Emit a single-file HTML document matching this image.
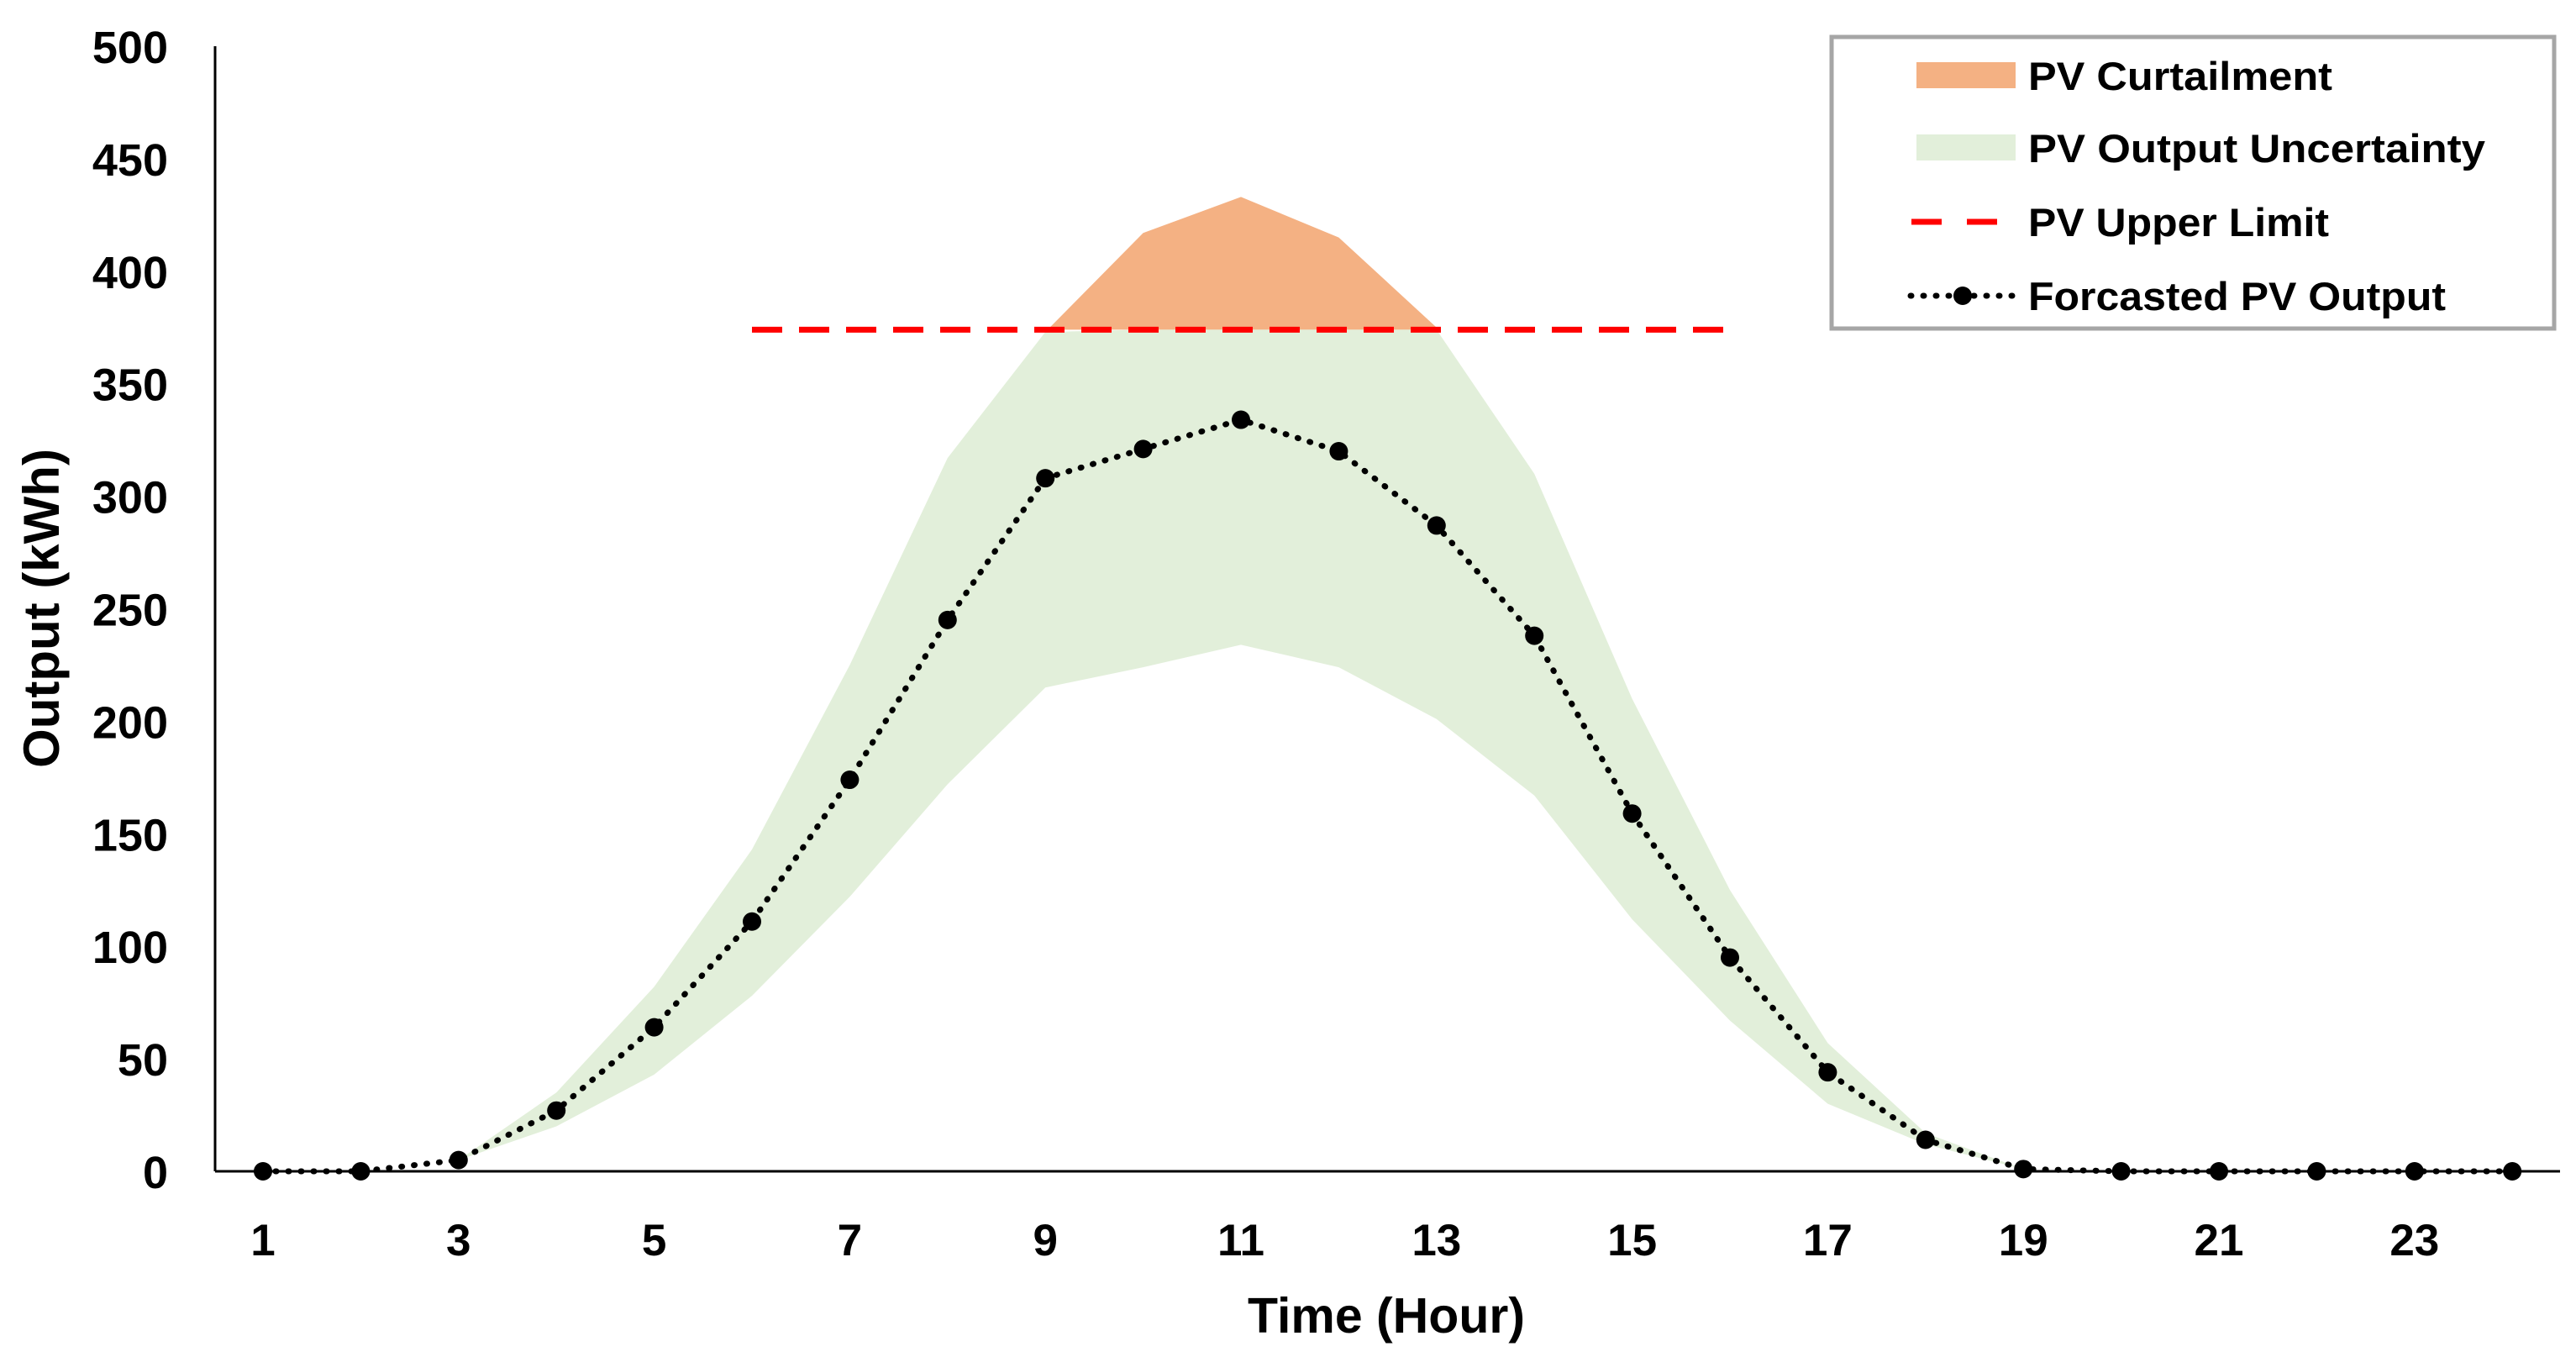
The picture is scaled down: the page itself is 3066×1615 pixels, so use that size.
<!DOCTYPE html>
<html><head><meta charset="utf-8"><style>
html,body{margin:0;padding:0;background:#fff;}
svg{display:block;}
text{font-family:"Liberation Sans",Arial,sans-serif;font-weight:bold;fill:#000;}
</style></head><body>
<svg id="s" width="3066" height="1615" viewBox="0 0 3066 1615" xmlns="http://www.w3.org/2000/svg"></svg>
<script>
const s=document.getElementById('s');
const X=h=>313+(h-1)*116.4, Y=v=>1394-v*2.678;
const f=[0,0,5,27,64,111,174,245,308,321,334,320,287,238,159,95,44,14,1,0,0,0,0,0];
const up=[0,0,5,35,82,143,225,317,373,417,433,415,375,310,210,125,57,17,1,0,0,0,0,0];
const lo=[0,0,5,20,43,78,122,172,215,224,234,224,201,167,112,67,30,12,1,0,0,0,0,0];
const L=374;
let h=`<defs><clipPath id="c"><rect x="0" y="0" width="3066" height="${Y(L)}"/></clipPath></defs>`;
let p=[];
for(let i=0;i<24;i++)p.push(X(i+1)+','+Y(up[i]));
for(let i=23;i>=0;i--)p.push(X(i+1)+','+Y(lo[i]));
h+=`<polygon points="${p.join(' ')}" fill="#f4b183" clip-path="url(#c)"/>`;
p=[];
for(let i=0;i<24;i++)p.push(X(i+1)+','+Y(Math.min(up[i],L)));
for(let i=23;i>=0;i--)p.push(X(i+1)+','+Y(lo[i]));
h+=`<polygon points="${p.join(' ')}" fill="#e2efda"/>`;
h+=`<line x1="256" y1="55" x2="256" y2="1394" stroke="#000" stroke-width="3"/>`;
h+=`<line x1="256" y1="1394" x2="3047" y2="1394" stroke="#000" stroke-width="3"/>`;
for(let v=0;v<=500;v+=50)h+=`<text x="200" y="${Y(v)+20}" font-size="54" text-anchor="end">${v}</text>`;
for(let k=1;k<=23;k+=2)h+=`<text x="${X(k)}" y="1494" font-size="53" text-anchor="middle">${k}</text>`;
h+=`<text x="1650" y="1586" font-size="59" text-anchor="middle">Time (Hour)</text>`;
h+=`<text transform="translate(70,724) rotate(-90)" font-size="60" text-anchor="middle">Output (kWh)</text>`;
h+=`<line x1="895" y1="${Y(L)}" x2="2056" y2="${Y(L)}" stroke="#ff0000" stroke-width="7" stroke-dasharray="36,20"/>`;
p=[];for(let i=0;i<24;i++)p.push(X(i+1)+','+Y(f[i]));
h+=`<polyline points="${p.join(' ')}" fill="none" stroke="#000" stroke-width="7" stroke-dasharray="1,14" stroke-linecap="round"/>`;
for(let i=0;i<24;i++)h+=`<circle cx="${X(i+1)}" cy="${Y(f[i])}" r="11" fill="#000"/>`;
h+=`<rect x="2180" y="44" width="860" height="347" fill="#fff" stroke="#a6a6a6" stroke-width="5"/>`;
h+=`<rect x="2281" y="74" width="118" height="31" fill="#f4b183"/>`;
h+=`<rect x="2281" y="160" width="118" height="31" fill="#e2efda"/>`;
h+=`<line x1="2275" y1="264" x2="2380" y2="264" stroke="#ff0000" stroke-width="7" stroke-dasharray="36,30"/>`;
h+=`<line x1="2274" y1="352" x2="2395" y2="352" stroke="#000" stroke-width="7" stroke-dasharray="1,14" stroke-linecap="round"/>`;
h+=`<circle cx="2336" cy="352" r="11" fill="#000"/>`;
const lt=['PV Curtailment','PV Output Uncertainty','PV Upper Limit','Forcasted PV Output'];
const tl=[362,544,358,497];
[90,176,264,352].forEach((y,i)=>h+=`<text x="2414" y="${y+17}" font-size="47" textLength="${tl[i]}" lengthAdjust="spacingAndGlyphs">${lt[i]}</text>`);
s.innerHTML=h;
</script>
</body></html>
